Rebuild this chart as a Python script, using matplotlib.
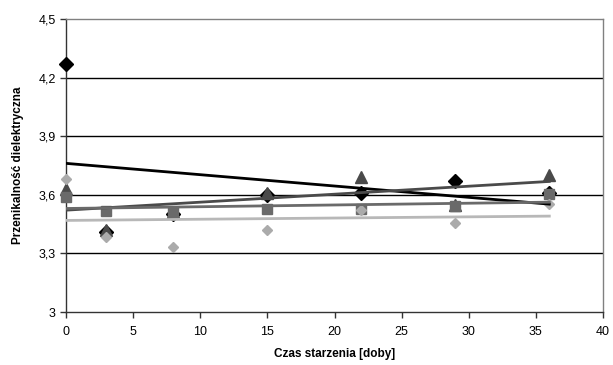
import numpy as np
import matplotlib
matplotlib.use("Agg")
import matplotlib.pyplot as plt

plt.rcParams["font.family"] = ["Liberation Sans", "DejaVu Sans"]

# aging time [days]
days = [0, 3, 8, 15, 22, 29, 36]

# dielectric permittivity, four samples
s_black = [4.27, 3.41, 3.50, 3.60, 3.61, 3.67, 3.61]
s_tri = [3.63, 3.42, 3.51, 3.61, 3.69, 3.55, 3.70]
s_square = [3.59, 3.515, 3.51, 3.525, 3.525, 3.54, 3.605]
s_light = [3.68, 3.385, 3.335, 3.42, 3.52, 3.455, 3.555]

yticks = [3.0, 3.3, 3.6, 3.9, 4.2, 4.5]
ytick_labels = ["3", "3,3", "3,6", "3,9", "4,2", "4,5"]
xticks = [0, 5, 10, 15, 20, 25, 30, 35, 40]

fig = plt.figure(figsize=(6.13, 3.65), dpi=100)
ax = fig.add_axes([0.1077, 0.1452, 0.876, 0.803])

series = [
    (s_black, "D", "#000000", "#000000", 7.5),
    (s_tri, "^", "#4a4a4a", "#4a4a4a", 8.5),
    (s_square, "s", "#6a6a6a", "#6a6a6a", 7),
    (s_light, "D", "#ababab", "#b8b8b8", 5.5),
]

x = np.array(days, dtype=float)
for vals, mk, mcol, lcol, ms in series:
    ax.plot(x, vals, linestyle="none", marker=mk, color=mcol,
            markersize=ms, zorder=3, clip_on=False)

# linear trend lines
for vals, mk, mcol, lcol, ms in series:
    k, b = np.polyfit(x, vals, 1)
    ax.plot([x[0], x[-1]], [b + k * x[0], b + k * x[-1]],
            color=lcol, linewidth=2, zorder=4)

ax.set_xlim(0, 40)
ax.set_ylim(3.0, 4.5)
ax.set_xticks(xticks)
ax.set_xticklabels([str(v) for v in xticks])
ax.set_yticks(yticks)
ax.set_yticklabels(ytick_labels)

for yv in yticks[1:-1]:
    ax.axhline(yv, color="black", linewidth=1, zorder=1)

for side in ("top", "right"):
    ax.spines[side].set_color("#808080")
for side in ("left", "bottom"):
    ax.spines[side].set_color("#333333")
for sp in ax.spines.values():
    sp.set_linewidth(1)

ax.tick_params(axis="both", direction="out", length=4, width=1,
               labelsize=9, colors="#333333", labelcolor="black")
ax.tick_params(axis="x", pad=6)
ax.set_xlabel("Czas starzenia [doby]", fontsize=8.5, fontweight="bold",
              labelpad=7)
ax.set_ylabel("Przenikalność dielektryczna", fontsize=8.5,
              fontweight="bold", labelpad=10)

fig.savefig("out.png", dpi=100)
